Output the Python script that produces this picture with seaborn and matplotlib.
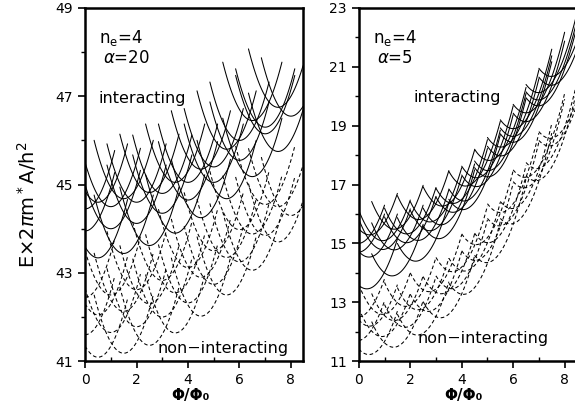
import numpy as np
import pandas as pd
import seaborn as sns
import matplotlib
matplotlib.use("Agg")
from matplotlib import pyplot as plt

# parabola labels (flux, in units of Phi_0)
int_centers = [0, 1, 2, 3, 4, 5, 6, 7, 8]
half_centers = [0.5, 1.5, 2.5, 3.5, 4.5, 5.5, 6.5, 7.5]

# alpha = 20 panel: energy of every parabola at its label
left_solid_a = [43.34, 43.44, 43.62, 43.9, 44.25, 44.68, 45.18, 45.75]
left_solid_b = [43.95, 44.0, 44.12, 44.35, 44.65, 45.05, 45.55, 46.15, 46.55]
left_solid_c = [44.45, 44.5, 44.6, 44.8, 45.05, 45.4, 46.0, 46.3]
left_solid_d = [44.6, 44.68, 44.82, 45.05, 45.35, 45.8, 46.45, 46.75]
left_dash_a = [41.09, 41.18, 41.36, 41.64, 42.02, 42.5, 43.06, 43.7]
left_dash_b = [41.6, 41.65, 41.78, 42.0, 42.32, 42.74, 43.25, 43.85, 44.3]
left_dash_c = [42.05, 42.13, 42.3, 42.55, 42.9, 43.35, 43.88, 44.5]
left_dash_d = [42.45, 42.5, 42.62, 42.83, 43.12, 43.5, 43.98, 44.55]

# alpha = 5 panel
right_solid_a = [13.5, 13.95, 14.5, 15.35, 16.4, 17.55, 18.75, 20.0]
right_solid_b = [14.55, 14.8, 15.15, 15.75, 16.65, 17.75, 18.95, 20.2]
right_solid_c = [15.0, 15.1, 15.35, 15.8, 16.5, 17.45, 18.55, 19.75, 21.0]
right_solid_d = [14.7, 14.8, 15.05, 15.5, 16.2, 17.15, 18.25, 19.45, 20.7]
right_solid_e = [15.3, 15.5, 15.85, 16.35, 17.1, 18.05, 19.2, 20.45]
right_dash_a = [11.24, 11.5, 11.95, 12.6, 13.5, 14.7, 16.1, 17.6]
right_dash_b = [11.7, 11.85, 12.2, 12.8, 13.65, 14.7, 15.95, 17.3, 18.75]
right_dash_c = [12.2, 12.4, 12.8, 13.4, 14.25, 15.3, 16.55, 17.95]
right_dash_d = [12.5, 12.6, 12.9, 13.45, 14.2, 15.2, 16.35, 17.6, 18.95]

left_yticks = [41, 43, 45, 47, 49]
right_yticks = [11, 13, 15, 17, 19, 21, 23]
x_ticks = [0, 2, 4, 6, 8]

XMAX = 8.47


def build_frame(families, curv, half_width, tilt):
    rows = []
    n = 0
    for kind, centers, energies in families:
        centers = np.asarray(centers[:len(energies)], dtype=float)
        energies = np.asarray(energies, dtype=float)
        slopes = np.gradient(energies, centers) if tilt else np.zeros_like(energies)
        for c, e0, s in zip(centers, energies, slopes):
            phi = np.linspace(max(c - half_width, 0), min(c + half_width, XMAX), 60)
            for p in phi:
                rows.append((n, kind, p, e0 + s * (p - c) + curv * (p - c) ** 2))
            n += 1
    return pd.DataFrame(rows, columns=["curve", "kind", "phi", "E"])


left_df = build_frame([
    ("interacting", half_centers, left_solid_a),
    ("interacting", int_centers, left_solid_b),
    ("interacting", int_centers, left_solid_c),
    ("interacting", half_centers, left_solid_d),
    ("non-interacting", half_centers, left_dash_a),
    ("non-interacting", int_centers, left_dash_b),
    ("non-interacting", half_centers, left_dash_c),
    ("non-interacting", int_centers, left_dash_d),
], 1.0, 1.15, False)

right_df = build_frame([
    ("interacting", half_centers, right_solid_a),
    ("interacting", half_centers, right_solid_b),
    ("interacting", int_centers, right_solid_c),
    ("interacting", int_centers, right_solid_d),
    ("interacting", half_centers, right_solid_e),
    ("non-interacting", half_centers, right_dash_a),
    ("non-interacting", int_centers, right_dash_b),
    ("non-interacting", half_centers, right_dash_c),
    ("non-interacting", int_centers, right_dash_d),
], 1.2, 1.0, True)

sns.set_style("ticks")
plt.rcParams["font.family"] = ["DejaVu Sans"]
plt.rcParams["mathtext.fontset"] = "dejavusans"
plt.rcParams["text.color"] = "black"

fig = plt.figure(figsize=(5.75, 4.19), dpi=100)
ax_l = fig.add_axes([0.148, 0.138, 0.379, 0.843])
ax_r = fig.add_axes([0.624, 0.138, 0.379, 0.843])

dash_map = {"interacting": "", "non-interacting": (3.5, 2.5)}

for ax, df, yticks in [(ax_l, left_df, left_yticks), (ax_r, right_df, right_yticks)]:
    sns.lineplot(data=df, x="phi", y="E", units="curve", estimator=None,
                 style="kind", dashes=dash_map, color="black", linewidth=0.75,
                 legend=False, sort=False, ax=ax)
    ax.set(xlabel="", ylabel="")
    ax.set_xlim(0, XMAX)
    ax.set_ylim(yticks[0], yticks[-1])
    ax.set_xticks(x_ticks)
    ax.set_xticks([1, 3, 5, 7], minor=True)
    ax.set_yticks(yticks)
    ax.set_yticks([y + 1 for y in yticks[:-1]], minor=True)
    ax.tick_params(which="major", direction="out", length=5, width=1.2,
                   labelsize=10, colors="black")
    ax.tick_params(axis="x", which="minor", direction="in", length=3, width=1,
                   colors="black")
    ax.tick_params(axis="y", which="minor", direction="out", length=3, width=1,
                   colors="black")
    for s in ax.spines.values():
        s.set_linewidth(1.8)
        s.set_color("black")
    ax.spines["top"].set_visible(True)
    ax.spines["right"].set_visible(True)

ax_l.text(0.54, 48.21, r"n$_\mathrm{e}$=4", fontsize=12, va="baseline")
ax_l.text(0.7, 47.76, r"$\alpha$=20", fontsize=12, va="baseline")
ax_l.text(0.54, 46.85, "interacting", fontsize=11.5, va="baseline")
ax_l.text(2.83, 41.18, "non\u2212interacting", fontsize=11.5, va="baseline")

ax_r.text(0.54, 21.82, r"n$_\mathrm{e}$=4", fontsize=12, va="baseline")
ax_r.text(0.7, 21.14, r"$\alpha$=5", fontsize=12, va="baseline")
ax_r.text(2.14, 19.81, "interacting", fontsize=11.5, va="baseline")
ax_r.text(2.29, 11.61, "non\u2212interacting", fontsize=11.5, va="baseline")

fig.text(27 / 575, 0.511, r"E$\times$2$\pi$m$^*$A/h$^2$", rotation=90,
         ha="center", va="center", fontsize=14)
fig.text(190 / 575, 1 - 395 / 419, "\u03a6/\u03a6\u2080", ha="center", va="center",
         fontsize=11, fontweight="bold")
fig.text(463 / 575, 1 - 395 / 419, "\u03a6/\u03a6\u2080", ha="center", va="center",
         fontsize=11, fontweight="bold")

fig.savefig("out.png", dpi=100)
